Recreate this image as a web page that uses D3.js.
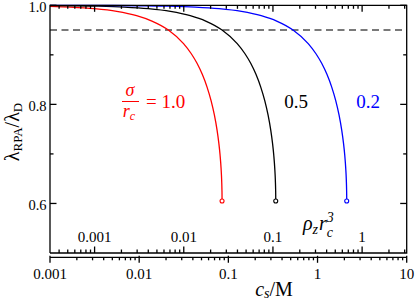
<!DOCTYPE html>
<html><head><meta charset="utf-8">
<script src="https://cdn.jsdelivr.net/npm/d3@7"></script>
<style>
body{margin:0;background:#fff;}
</style></head>
<body><svg id="c" width="415" height="301"></svg>
<script>
// ---- data ----
const seriesNames = ["1.0", "0.5", "0.2"];
const seriesColors = ["#ff0000", "#000000", "#0000ff"];
const cRed   = [0.001,0.0017,0.00315,0.0056,0.00935,0.0139,0.02125,0.03145,0.03825,0.04454,0.051,0.05772,0.064,0.0697,0.07472,0.0782,0.08075,0.08288,0.08415,0.08475,0.08492,0.085];
const lRed   = [0.9978,0.9963,0.9931,0.9876,0.9790,0.9681,0.9500,0.9226,0.9027,0.8829,0.8606,0.8349,0.8076,0.7787,0.7481,0.7218,0.6977,0.6708,0.6468,0.6279,0.6183,0.605];
const cBlack = [0.001,0.0034,0.0068,0.01258,0.02244,0.0374,0.05576,0.085,0.1258,0.153,0.17816,0.204,0.23086,0.25602,0.2788,0.29886,0.3128,0.323,0.3315,0.3366,0.339,0.33966,0.34];
const lBlack = [0.9995,0.9982,0.9963,0.9931,0.9876,0.9790,0.9681,0.9500,0.9226,0.9027,0.8829,0.8606,0.8349,0.8076,0.7787,0.7481,0.7218,0.6977,0.6708,0.6468,0.6279,0.6183,0.605];
const cBlue  = [0.001,0.0025,0.01,0.02125,0.0425,0.0786,0.1403,0.2338,0.3485,0.5313,0.7863,0.9563,1.1135,1.275,1.4429,1.6001,1.7425,1.8679,1.955,2.0188,2.0719,2.1038,2.1186,2.1229,2.125];
const lBlue  = [0.9999,0.9998,0.9991,0.9982,0.9963,0.9931,0.9876,0.9790,0.9681,0.9500,0.9226,0.9027,0.8829,0.8606,0.8349,0.8076,0.7787,0.7481,0.7218,0.6977,0.6708,0.6468,0.6279,0.6183,0.605];
const threshold = 0.95;
const xTickValues = [0.001, 0.01, 0.1, 1, 10];
const xTickLabels = ["0.001", "0.01", "0.1", "1", "10"];
const rhoTickValues = [0.001, 0.01, 0.1, 1];
const rhoTickLabels = ["0.001", "0.01", "0.1", "1"];
const rhoFactor = 0.3162; // rho_z r_c^3 per c_s/M
const yMajor = [0.6, 0.8, 1.0];
const yMajorLabels = ["0.6", "0.8", "1.0"];
const yMinor = [0.7, 0.9];

const series = [
  {c: cRed, l: lRed}, {c: cBlack, l: lBlack}, {c: cBlue, l: lBlue}
];

// ---- pick an installed serif font ----
function pickFont() {
  const cands = ["Liberation Serif", "DejaVu Serif", "Tinos", "Times New Roman", "Noto Serif", "FreeSerif", "Times"];
  const ctx = document.createElement("canvas").getContext("2d");
  const s = "0123456789.abcdefghijklmnopqrstuvwxyzMWλσρ";
  const w = f => { ctx.font = "72px " + f; return ctx.measureText(s).width; };
  const wm = w("monospace"), ws = w("sans-serif");
  for (const c of cands) {
    if (w(`"${c}", monospace`) !== wm && w(`"${c}", sans-serif`) !== ws) return `"${c}", serif`;
  }
  return "serif";
}
const FONT = pickFont();

// ---- layout ----
const svg = d3.select("#c").attr("font-family", FONT);
const L = 50, R = 406.7, T = 5.3, B = 253, B2 = 257.3;
const x = d3.scaleLog().domain([0.001, 10]).range([L, R]);
const xr = d3.scaleLog().domain([0.001*rhoFactor, 10*rhoFactor]).range([L, R]);
const y = d3.scaleLinear().domain([0.5, 1.0]).range([B, T]);

function minorTicks(scale) {
  const [a, b] = scale.domain();
  const out = [];
  for (let e = Math.floor(Math.log10(a)); e <= Math.ceil(Math.log10(b)); e++) {
    for (let m = 1; m <= 9; m++) {
      const v = m * Math.pow(10, e);
      if (v >= a * 0.9999 && v <= b * 1.0001) out.push({v, major: m === 1});
    }
  }
  return out;
}

const g = svg.append("g");

// dashed threshold
g.append("line").attr("x1", L).attr("x2", R).attr("y1", y(threshold)).attr("y2", y(threshold))
  .attr("stroke", "#4d4d4d").attr("stroke-width", 1.4).attr("stroke-dasharray", "7,4.5");

// curves
const line = d3.line().x(d => x(d[0])).y(d => y(d[1])).curve(d3.curveMonotoneX);
series.forEach((s, i) => {
  const pts = s.c.map((c, k) => [c, s.l[k]]);
  g.append("path").attr("d", line(pts)).attr("fill", "none")
    .attr("stroke", seriesColors[i]).attr("stroke-width", 1.3);
  const last = pts[pts.length - 1];
  g.append("circle").attr("cx", x(last[0])).attr("cy", y(last[1])).attr("r", 2)
    .attr("fill", "#fff").attr("stroke", seriesColors[i]).attr("stroke-width", 1.1);
});

// frame: left, top, right, inner bottom
const ax = svg.append("g").attr("stroke", "#000").attr("stroke-width", 1.3).attr("fill", "none");
ax.append("path").attr("d", `M${L},${B}V${T}H${R}V${B}H${L}`);

// y ticks left & right
yMajor.forEach(v => {
  ax.append("line").attr("x1", L).attr("x2", L + 6.5).attr("y1", y(v)).attr("y2", y(v));
  ax.append("line").attr("x1", R).attr("x2", R - 6.5).attr("y1", y(v)).attr("y2", y(v));
});
yMinor.forEach(v => {
  ax.append("line").attr("x1", L).attr("x2", L + 3.5).attr("y1", y(v)).attr("y2", y(v));
  ax.append("line").attr("x1", R).attr("x2", R - 3.5).attr("y1", y(v)).attr("y2", y(v));
});
yMajor.forEach((v, i) => {
  svg.append("text").attr("x", 46.5).attr("y", y(v) + 6.3)
    .attr("text-anchor", "end").attr("font-size", 14.5).text(yMajorLabels[i]);
});

// rho ticks: inner bottom (upward) and top (downward)
minorTicks(xr).forEach(t => {
  const len = t.major ? 6.5 : 3.5;
  const px = xr(t.v);
  ax.append("line").attr("x1", px).attr("x2", px).attr("y1", B).attr("y2", B - len);
  ax.append("line").attr("x1", px).attr("x2", px).attr("y1", T).attr("y2", T + len);
});
rhoTickValues.forEach((v, i) => {
  svg.append("text").attr("x", xr(v)).attr("y", 242).attr("text-anchor", "middle")
    .attr("font-size", 15).text(rhoTickLabels[i]);
});

// outer bottom axis for c_s
ax.append("line").attr("x1", L).attr("x2", R).attr("y1", B2).attr("y2", B2);
minorTicks(x).forEach(t => {
  const len = t.major ? 5.5 : 3;
  const px = x(t.v);
  ax.append("line").attr("x1", px).attr("x2", px).attr("y1", B2 - (t.major ? 1.5 : 0)).attr("y2", B2 + len);
});
xTickValues.forEach((v, i) => {
  svg.append("text").attr("x", x(v)).attr("y", 278.5).attr("text-anchor", "middle")
    .attr("font-size", 15).text(xTickLabels[i]);
});

// x label c_s / M
const xl = svg.append("text").attr("x", 274).attr("y", 295.5).attr("text-anchor", "middle").attr("font-size", 20);
xl.append("tspan").attr("font-style", "italic").text("c");
xl.append("tspan").attr("font-style", "italic").attr("font-size", 14).attr("dy", 2.5).text("s");
xl.append("tspan").attr("dy", -2.5).text("/M");

// y label
const yl = svg.append("text").attr("transform", "translate(19,132) rotate(-90)")
  .attr("text-anchor", "middle").attr("font-size", 20);
yl.append("tspan").text("λ");
yl.append("tspan").attr("font-size", 13).attr("dy", 3).text("RPA");
yl.append("tspan").attr("dy", -3).text("/λ");
yl.append("tspan").attr("font-size", 13).attr("dy", 3).text("D");

// annotations
const red = seriesColors[0];
svg.append("text").attr("x", 130).attr("y", 96).attr("text-anchor", "middle")
  .attr("font-size", 18).attr("font-style", "italic").attr("fill", red).text("σ");
svg.append("line").attr("x1", 122).attr("x2", 139).attr("y1", 101.5).attr("y2", 101.5)
  .attr("stroke", red).attr("stroke-width", 1);
const rc = svg.append("text").attr("x", 129).attr("y", 117).attr("text-anchor", "middle")
  .attr("font-size", 18).attr("font-style", "italic").attr("fill", red);
rc.append("tspan").text("r");
rc.append("tspan").attr("font-size", 12).attr("dy", 3).text("c");
svg.append("text").attr("x", 146).attr("y", 107.5).attr("font-size", 19).attr("fill", red)
  .text("= " + seriesNames[0]);
svg.append("text").attr("x", 296).attr("y", 107.5).attr("text-anchor", "middle")
  .attr("font-size", 19).attr("fill", seriesColors[1]).text(seriesNames[1]);
svg.append("text").attr("x", 368).attr("y", 107.5).attr("text-anchor", "middle")
  .attr("font-size", 19).attr("fill", seriesColors[2]).text(seriesNames[2]);

// rho_z r_c^3 label (separate pieces)
let cx = 303;
function piece(txt, size, yy, advance) {
  const t = svg.append("text").attr("x", cx).attr("y", yy).attr("font-size", size)
    .attr("font-style", "italic").text(txt);
  const w = t.node().getComputedTextLength();
  if (advance) cx += w;
  return w;
}
piece("ρ", 20, 229.5, true);
piece("z", 14, 234, true);
cx += 1;
piece("r", 20, 229.5, true);
piece("3", 14, 222, false);
piece("c", 14, 236.5, true);
</script></body></html>
